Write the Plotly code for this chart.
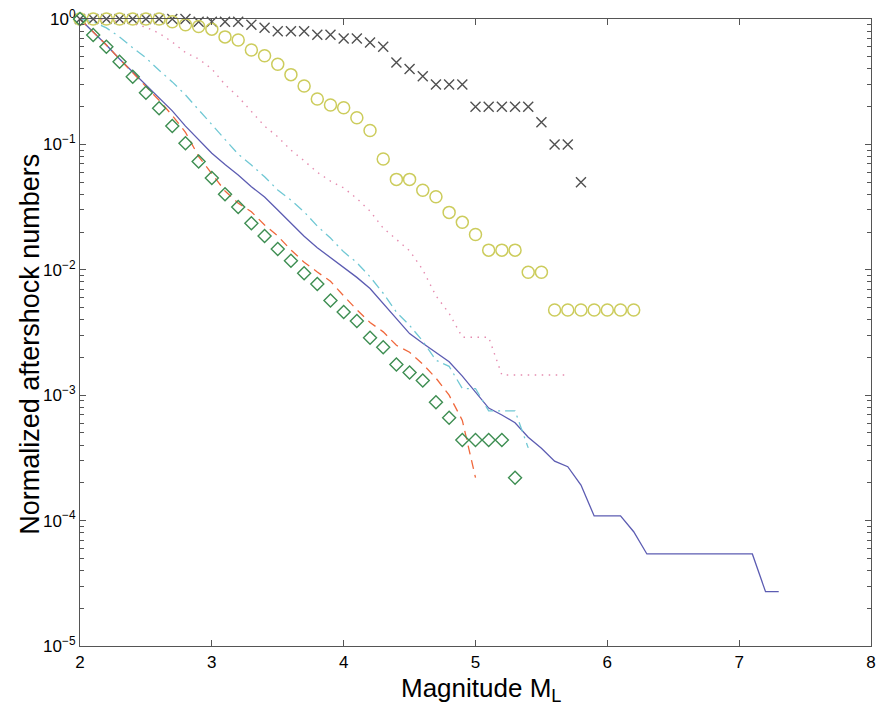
import plotly.graph_objects as go

# Magnitude bins and normalized cumulative aftershock counts per sequence
mag_cross = [2.0, 2.1, 2.2, 2.3, 2.4, 2.5, 2.6, 2.7, 2.8, 2.9, 3.0, 3.1, 3.2, 3.3, 3.4, 3.5,
             3.6, 3.7, 3.8, 3.9, 4.0, 4.1, 4.2, 4.3, 4.4, 4.5, 4.6, 4.7, 4.8, 4.9, 5.0, 5.1,
             5.2, 5.3, 5.4, 5.5, 5.6, 5.7, 5.8]
num_cross = [1.0, 1.0, 1.0, 1.0, 1.0, 1.0, 1.0, 1.0, 1.0, 0.95, 0.95, 0.95, 0.95, 0.9, 0.85, 0.8,
             0.8, 0.8, 0.75, 0.75, 0.7, 0.7, 0.65, 0.6, 0.45, 0.4, 0.35, 0.3, 0.3, 0.3, 0.2, 0.2,
             0.2, 0.2, 0.2, 0.15, 0.1, 0.1, 0.05]

mag_circle = [2.0, 2.1, 2.2, 2.3, 2.4, 2.5, 2.6, 2.7, 2.8, 2.9, 3.0, 3.1, 3.2, 3.3, 3.4, 3.5,
              3.6, 3.7, 3.8, 3.9, 4.0, 4.1, 4.2, 4.3, 4.4, 4.5, 4.6, 4.7, 4.8, 4.9, 5.0, 5.1,
              5.2, 5.3, 5.4, 5.5, 5.6, 5.7, 5.8, 5.9, 6.0, 6.1, 6.2]
num_circle = [1.0, 1.0, 1.0, 1.0, 1.0, 1.0, 1.0, 0.95, 0.90, 0.87, 0.83, 0.72, 0.68, 0.566, 0.51, 0.435,
              0.36, 0.292, 0.23, 0.206, 0.196, 0.163, 0.129, 0.0766, 0.0526, 0.0526, 0.0431, 0.0383,
              0.0287, 0.0239, 0.0191, 0.01435, 0.01435, 0.01435, 0.00957, 0.00957, 0.00478, 0.00478,
              0.00478, 0.00478, 0.00478, 0.00478, 0.00478]

mag_pink = [2.0, 2.1, 2.2, 2.3, 2.4, 2.5, 2.6, 2.7, 2.8, 2.9, 3.0, 3.1, 3.2, 3.3, 3.4, 3.5,
            3.6, 3.7, 3.8, 3.9, 4.0, 4.1, 4.2, 4.3, 4.4, 4.5, 4.6, 4.7, 4.8, 4.9, 5.0, 5.1,
            5.2, 5.3, 5.4, 5.5, 5.6, 5.7]
num_pink = [1.0, 1.0, 0.98, 0.96, 0.92, 0.86, 0.77, 0.655, 0.54, 0.48, 0.40, 0.30, 0.24, 0.185, 0.14,
            0.115, 0.09, 0.074, 0.060, 0.051, 0.045, 0.037, 0.0294, 0.0215, 0.0176, 0.0142, 0.010,
            0.0062, 0.0045, 0.0029, 0.0029, 0.0029, 0.00145, 0.00145, 0.00145, 0.00145, 0.00145,
            0.00145]

mag_cyan = [2.0, 2.1, 2.2, 2.3, 2.4, 2.5, 2.6, 2.7, 2.8, 2.9, 3.0, 3.1, 3.2, 3.3, 3.4, 3.5,
            3.6, 3.7, 3.8, 3.9, 4.0, 4.1, 4.2, 4.3, 4.4, 4.5, 4.6, 4.7, 4.8, 4.9, 5.0, 5.1,
            5.2, 5.3, 5.4]
num_cyan = [1.0, 0.95, 0.85, 0.72, 0.59, 0.49, 0.39, 0.315, 0.248, 0.188, 0.143, 0.108, 0.0835,
            0.0685, 0.0552, 0.0433, 0.036, 0.029, 0.0223, 0.0179, 0.0139, 0.0114, 0.0088, 0.0065,
            0.0046, 0.0036, 0.0027, 0.0019, 0.0017, 0.00113, 0.00113, 0.00075, 0.00075, 0.00075,
            0.00038]

mag_blue = [2.0, 2.1, 2.2, 2.3, 2.4, 2.5, 2.6, 2.7, 2.8, 2.9, 3.0, 3.1, 3.2, 3.3, 3.4, 3.5,
            3.6, 3.7, 3.8, 3.9, 4.0, 4.1, 4.2, 4.3, 4.4, 4.5, 4.6, 4.7, 4.8, 4.9, 5.0, 5.1,
            5.2, 5.3, 5.4, 5.5, 5.6, 5.7, 5.8, 5.9, 6.0, 6.1, 6.2, 6.3, 6.4, 6.5, 6.6, 6.7,
            6.8, 6.9, 7.0, 7.1, 7.2, 7.3]
num_blue = [1.0, 0.79, 0.62, 0.48, 0.38, 0.30, 0.235, 0.185, 0.14, 0.108, 0.085, 0.069, 0.057,
            0.046, 0.038, 0.030, 0.0235, 0.0185, 0.0150, 0.0125, 0.0105, 0.0087, 0.0071, 0.0054,
            0.0041, 0.0031, 0.0026, 0.0022, 0.00185, 0.00142, 0.00107, 0.00079, 0.000695,
            0.000603, 0.000462, 0.000377, 0.000298, 0.000269, 0.000192, 0.000109, 0.000109,
            0.000109, 8.15e-5, 5.42e-5, 5.42e-5, 5.42e-5, 5.42e-5, 5.42e-5, 5.42e-5, 5.42e-5,
            5.42e-5, 5.42e-5, 2.71e-5, 2.71e-5]

mag_red = [2.0, 2.1, 2.2, 2.3, 2.4, 2.5, 2.6, 2.7, 2.8, 2.9, 3.0, 3.1, 3.2, 3.3, 3.4, 3.5,
           3.6, 3.7, 3.8, 3.9, 4.0, 4.1, 4.2, 4.3, 4.4, 4.5, 4.6, 4.7, 4.8, 4.9, 5.0]
num_red = [1.0, 0.79, 0.62, 0.48, 0.375, 0.29, 0.225, 0.17, 0.125, 0.08, 0.058, 0.0425, 0.034,
           0.029, 0.0228, 0.0186, 0.0144, 0.0115, 0.0096, 0.0081, 0.0062, 0.0048, 0.0038, 0.0032,
           0.0025, 0.0022, 0.00177, 0.00137, 0.0010, 0.00063, 0.00022]

mag_diamond = [2.0, 2.1, 2.2, 2.3, 2.4, 2.5, 2.6, 2.7, 2.8, 2.9, 3.0, 3.1, 3.2, 3.3, 3.4, 3.5,
               3.6, 3.7, 3.8, 3.9, 4.0, 4.1, 4.2, 4.3, 4.4, 4.5, 4.6, 4.7, 4.8, 4.9, 5.0, 5.1,
               5.2, 5.3]
num_diamond = [1.0, 0.745, 0.60, 0.457, 0.347, 0.258, 0.194, 0.14, 0.102, 0.073, 0.054, 0.040,
               0.0317, 0.0235, 0.0186, 0.01465, 0.0118, 0.0094, 0.0077, 0.0057, 0.0046, 0.0039,
               0.00287, 0.00241, 0.00176, 0.00152, 0.00131, 0.00088, 0.00066, 0.00044, 0.00044,
               0.00044, 0.00044, 0.00022]

x_ticks = [2, 3, 4, 5, 6, 7, 8]
y_ticks = [1e-5, 1e-4, 1e-3, 1e-2, 1e-1, 1e0]
y_ticktext = ["10<sup>−5</sup>", "10<sup>−4</sup>", "10<sup>−3</sup>",
              "10<sup>−2</sup>", "10<sup>−1</sup>", "10<sup>0</sup>"]
x_title = "Magnitude M<sub>L</sub>"
y_title = "Normalized aftershock numbers"

fig = go.Figure()

# Continuous curves
fig.add_trace(go.Scatter(x=mag_blue, y=num_blue, mode="lines",
                         line=dict(color="#5c5cb2", width=1.3), cliponaxis=False))
fig.add_trace(go.Scatter(x=mag_red, y=num_red, mode="lines",
                         line=dict(color="#f0683c", width=1.3, dash="9px,6px"), cliponaxis=False))
fig.add_trace(go.Scatter(x=mag_cyan, y=num_cyan, mode="lines",
                         line=dict(color="#70c8d4", width=1.3, dash="10px,5px,2px,5px"),
                         cliponaxis=False))
fig.add_trace(go.Scatter(x=mag_pink, y=num_pink, mode="lines",
                         line=dict(color="#e58cb0", width=1.4, dash="1.5px,5.5px"),
                         cliponaxis=False))

# Symbol series
fig.add_trace(go.Scatter(x=mag_cross, y=num_cross, mode="markers",
                         marker=dict(symbol="x-thin", size=10, color="#505050",
                                     line=dict(color="#505050", width=1.4)),
                         cliponaxis=False))
fig.add_trace(go.Scatter(x=mag_circle, y=num_circle, mode="markers",
                         marker=dict(symbol="circle-open", size=12, color="#cccc5c",
                                     line=dict(color="#cccc5c", width=1.5)),
                         cliponaxis=False))
fig.add_trace(go.Scatter(x=mag_diamond, y=num_diamond, mode="markers",
                         marker=dict(symbol="diamond-open", size=10, color="#3e8e52",
                                     line=dict(color="#3e8e52", width=1.4)),
                         cliponaxis=False))

axis_color = "#555555"
plot_l, plot_r, plot_t, plot_b = 79.5, 4, 19, 60
plot_w = 880 - plot_l - plot_r
plot_h = 706 - plot_t - plot_b

fig.update_layout(
    width=880, height=706,
    margin=dict(l=plot_l, r=plot_r, t=plot_t, b=plot_b, pad=0),
    paper_bgcolor="white", plot_bgcolor="white",
    showlegend=False,
    font=dict(family="Liberation Sans, Arial, sans-serif", color="black"),
    xaxis=dict(
        range=[2, 8], tickmode="array", tickvals=x_ticks,
        ticks="inside", ticklen=6, tickwidth=1, tickcolor=axis_color,
        showline=True, linecolor=axis_color, linewidth=1.2, mirror="ticks",
        showgrid=False, zeroline=False, ticklabeloverflow="allow",
        tickfont=dict(size=17),
    ),
    yaxis=dict(
        type="log", range=[-5, 0], tickmode="array", tickvals=y_ticks, ticktext=y_ticktext,
        ticks="inside", ticklen=6, tickwidth=1, tickcolor=axis_color,
        showline=True, linecolor=axis_color, linewidth=1.2, mirror="ticks",
        showgrid=False, zeroline=False,
        minor=dict(ticks="inside", ticklen=3.5, tickcolor=axis_color, dtick="D1",
                   showgrid=False),
        tickfont=dict(size=17),
    ),
    annotations=[
        dict(text=x_title, xref="paper", yref="paper",
             x=(483 - plot_l) / plot_w, y=-(689 - (706 - plot_b)) / plot_h,
             xanchor="center", yanchor="middle", showarrow=False,
             font=dict(size=26)),
        dict(text=y_title, xref="paper", yref="paper",
             x=-(plot_l - 29) / plot_w, y=(706 - plot_b - 344) / plot_h,
             xanchor="center", yanchor="middle", textangle=-90, showarrow=False,
             font=dict(size=27)),
    ],
)

fig.write_html("out.html")
